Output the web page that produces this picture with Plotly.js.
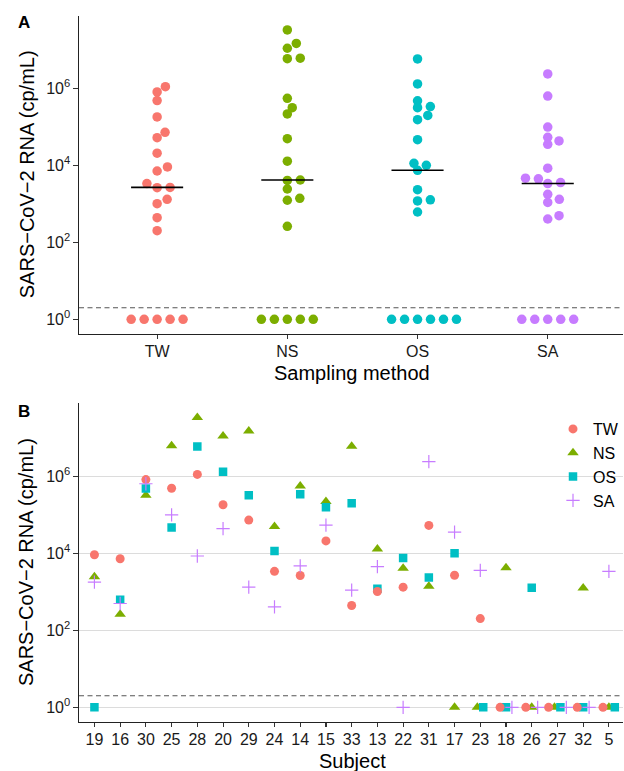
<!DOCTYPE html>
<html>
<head>
<meta charset="utf-8">
<script src="https://cdn.plot.ly/plotly-3.0.1.min.js"></script>
<style>html,body{margin:0;padding:0;background:#fff;}</style>
</head>
<body>
<div id="chart" style="width:624px;height:771px;"></div>
<script>
// ---------------- data ----------------
const subjects = ['19','16','30','25','28','20','29','24','14','15','33','13','22','31','17','23','18','26','27','32','5'];
const methods = ['TW','NS','OS','SA'];
// 0 = not detected (plotted at 10^0)
const TW = [9200, 7200, 820000, 490000, 1120000, 183000, 73000, 3400, 2650, 21000, 440, 1020, 1320, 53000, 2700, 202, 0, 0, 0, 0, 0];
const NS = [2450, 262, 320000, 6200000, 33500000, 11200000, 15000000, 50000, 560000, 220000, 6000000, 13000, 4100, 1400, 0, 0, 4200, 0, 0, 1250, 0];
const OS = [0, 618, 480000, 47000, 5900000, 1320000, 320000, 11400, 340000, 156000, 200000, 1200, 7500, 2360, 10100, 0, 0, 1280, 0, 0, 0];
const SA = [1780, 497, 640000, 100000, 8500, 43500, 1320, 407, 4700, 54000, 1100, 4500, 0, 2400000, 35600, 3600, 0, 0, 0, 0, 3400];
const detectionLimit = 2;
const yTickVals = [1, 100, 10000, 1000000];
const yTickText = ['10<sup>0</sup>', '10<sup>2</sup>', '10<sup>4</sup>', '10<sup>6</sup>'];

const series = {TW: TW, NS: NS, OS: OS, SA: SA};
const colors = {TW: '#F8766D', NS: '#7CAE00', OS: '#00BFC4', SA: '#C77CFF'};
const symbolsB = {TW: 'circle', NS: 'triangle-up', OS: 'square', SA: 'cross-thin'};
const sizesB = {TW: 9, NS: 10, OS: 8.5, SA: 9.5};

// ---------------- geometry ----------------
const W = 624, H = 771, L = 79;
const yRange = [-0.376, 7.901];
const aTop = 15.5, aBot = 333.8, bTop = 403.1, bBot = 721.8;
const xRangeA = [-0.6, 3.578];
const xRangeB = [-0.6, 20.548];
const plotW = W - L;
const pxPerUnitA = plotW / (xRangeA[1] - xRangeA[0]);
const pxPerDecA = (aBot - aTop) / (yRange[1] - yRange[0]);
const plotVal = v => (v > 0 ? v : 1);

// beeswarm (swarm) offsets, in px, ascending priority
function swarm(vals) {
  const a = 13, b = 6.76;
  const ys = vals.map(v => Math.log10(plotVal(v)) * pxPerDecA);
  const idx = ys.map((y, i) => i).sort((i, j) => ys[i] - ys[j]);
  const xs = new Array(vals.length).fill(0);
  const placed = [];
  idx.forEach(i => {
    const y = ys[i];
    const cands = [0];
    placed.forEach(p => {
      const dy = Math.abs(y - p.y);
      if (dy < b) {
        const dx = a * Math.sqrt(1 - (dy / b) * (dy / b));
        cands.push(p.x + dx, p.x - dx);
      }
    });
    cands.sort((u, v) => (Math.abs(u) - Math.abs(v)) || (v - u));
    let chosen = cands[0];
    for (const c of cands) {
      const ok = placed.every(p => {
        const dx = (c - p.x) / a, dy = (y - p.y) / b;
        return dx * dx + dy * dy >= 1 - 1e-6;
      });
      if (ok) { chosen = c; break; }
    }
    xs[i] = chosen;
    placed.push({x: chosen, y: y});
  });
  return xs;
}

function median(arr) {
  const s = arr.map(plotVal).sort((p, q) => p - q);
  const n = s.length;
  return n % 2 ? s[(n - 1) / 2] : Math.sqrt(s[n / 2 - 1] * s[n / 2]);
}

const traces = [];
const shapes = [];
// ---------------- panel A ----------------
methods.forEach((m, gi) => {
  const vals = series[m];
  const off = swarm(vals);
  traces.push({
    type: 'scatter', mode: 'markers', xaxis: 'x', yaxis: 'y', showlegend: false,
    x: vals.map((v, i) => gi + off[i] / pxPerUnitA),
    y: vals.map(plotVal),
    marker: {color: colors[m], size: 9.5, line: {width: 0}},
    hoverinfo: 'skip'
  });
  const med = median(vals);
  shapes.push({type: 'line', xref: 'x', yref: 'y', x0: gi - 0.2, x1: gi + 0.2, y0: med, y1: med,
    line: {color: '#000', width: 1.6}});
});
shapes.push({type: 'line', xref: 'x domain', yref: 'y', x0: 0, x1: 1, y0: detectionLimit, y1: detectionLimit,
  line: {color: '#555', width: 1.1, dash: '5px,3.5px'}});

// ---------------- panel B ----------------
// spread non-detected points of one subject side by side
const zeroOffset = {};
subjects.forEach((s, si) => {
  const zs = methods.filter(m => !(series[m][si] > 0));
  zs.forEach((m, k) => { zeroOffset[m + si] = (k - (zs.length - 1) / 2) * 0.23; });
});
const drawOrder = ['NS', 'OS', 'TW', 'SA'];
drawOrder.forEach(m => {
  const vals = series[m];
  const isCross = m === 'SA';
  traces.push({
    type: 'scatter', mode: 'markers', xaxis: 'x2', yaxis: 'y2', name: m,
    legendrank: methods.indexOf(m) + 1,
    x: vals.map((v, i) => i + (v > 0 ? 0 : zeroOffset[m + i])),
    y: vals.map(plotVal),
    marker: isCross
      ? {symbol: symbolsB[m], size: sizesB[m], color: colors[m], line: {color: colors[m], width: 1.2}}
      : {symbol: symbolsB[m], size: sizesB[m], color: colors[m], line: {width: 0}},
    hoverinfo: 'skip'
  });
});
shapes.push({type: 'line', xref: 'x2 domain', yref: 'y2', x0: 0, x1: 1, y0: detectionLimit, y1: detectionLimit,
  line: {color: '#555', width: 1.1, dash: '5px,3.5px'}});

const fontFam = 'Liberation Sans, Arial, sans-serif';
const axisCommon = {
  showline: true, linecolor: '#222', linewidth: 1.1, mirror: false,
  ticks: 'outside', ticklen: 4.5, tickwidth: 1.1, tickcolor: '#333',
  zeroline: false, fixedrange: true,
  tickfont: {family: fontFam, size: 16, color: '#1a1a1a'}
};
const pxY = p => 1 - p / H;
const pxX = p => (p - L) / plotW;

const layout = {
  width: W, height: H,
  margin: {l: L, r: 0, t: 0, b: 0, pad: 0},
  paper_bgcolor: '#fff', plot_bgcolor: '#fff',
  font: {family: fontFam, size: 16, color: '#000'},
  showlegend: true,
  legend: {x: pxX(554), y: pxY(412), xanchor: 'left', yanchor: 'top',
    bgcolor: 'rgba(0,0,0,0)', font: {family: fontFam, size: 16, color: '#000'}},
  xaxis: Object.assign({}, axisCommon, {anchor: 'y', domain: [0, 1], range: xRangeA,
    tickvals: [0, 1, 2, 3], ticktext: methods, showgrid: false, ticklabelstandoff: -2}),
  yaxis: Object.assign({}, axisCommon, {anchor: 'x', type: 'log', domain: [pxY(aBot), pxY(aTop)], range: yRange,
    tickvals: yTickVals, ticktext: yTickText, showgrid: false}),
  xaxis2: Object.assign({}, axisCommon, {anchor: 'y2', domain: [0, 1], range: xRangeB,
    tickvals: subjects.map((s, i) => i), ticktext: subjects, showgrid: false, ticklabelstandoff: -2}),
  yaxis2: Object.assign({}, axisCommon, {anchor: 'x2', type: 'log', domain: [pxY(bBot), pxY(bTop)], range: yRange,
    tickvals: yTickVals, ticktext: yTickText, showgrid: true, gridcolor: '#dcdcdc', gridwidth: 1}),
  shapes: shapes,
  annotations: [
    {text: '<b>A</b>', xref: 'paper', yref: 'paper', x: pxX(24), y: pxY(22.5), xanchor: 'center', yanchor: 'middle',
      showarrow: false, font: {family: fontFam, size: 17, color: '#000'}},
    {text: '<b>B</b>', xref: 'paper', yref: 'paper', x: pxX(24), y: pxY(411), xanchor: 'center', yanchor: 'middle',
      showarrow: false, font: {family: fontFam, size: 17, color: '#000'}},
    {text: 'Sampling method', xref: 'paper', yref: 'paper', x: pxX(352.8), y: pxY(373), xanchor: 'center', yanchor: 'middle',
      showarrow: false, font: {family: fontFam, size: 20, color: '#000'}},
    {text: 'Subject', xref: 'paper', yref: 'paper', x: pxX(352.8), y: pxY(760.5), xanchor: 'center', yanchor: 'middle',
      height: 20, valign: 'middle',
      showarrow: false, font: {family: fontFam, size: 20, color: '#000'}},
    {text: 'SARS\u2212CoV\u22122 RNA (cp/mL)', xref: 'paper', yref: 'paper', x: pxX(26.5), y: pxY((aTop + aBot) / 2),
      xanchor: 'center', yanchor: 'middle', textangle: -90, showarrow: false, font: {family: fontFam, size: 20, color: '#000'}},
    {text: 'SARS\u2212CoV\u22122 RNA (cp/mL)', xref: 'paper', yref: 'paper', x: pxX(26.5), y: pxY((bTop + bBot) / 2),
      xanchor: 'center', yanchor: 'middle', textangle: -90, showarrow: false, font: {family: fontFam, size: 20, color: '#000'}}
  ]
};

Plotly.newPlot('chart', traces, layout, {displayModeBar: false, staticPlot: true});
</script>
</body>
</html>
